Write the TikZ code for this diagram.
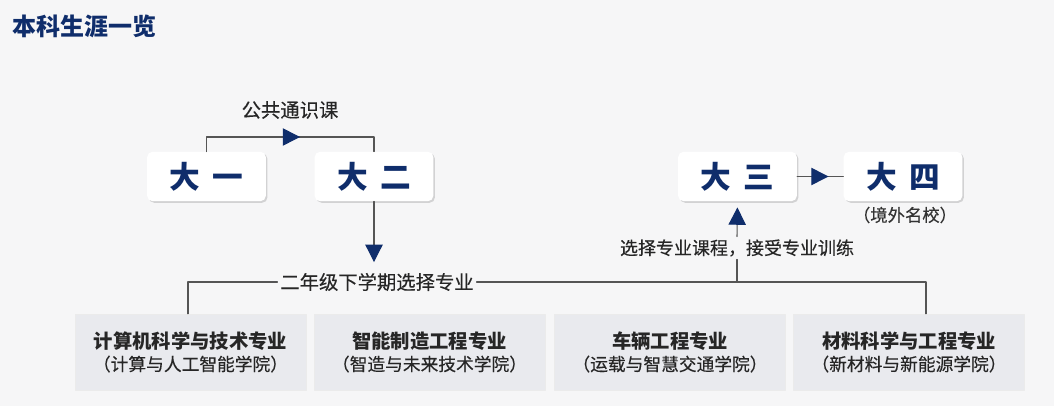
\documentclass[tikz,border=0pt]{standalone}
\usepackage{fontspec}
\setmainfont{Noto Sans CJK SC}
\newfontfamily\medfont{Noto Sans CJK SC}[FakeBold=0.35]
\usetikzlibrary{arrows.meta,shadows,decorations.markings}
\definecolor{navy}{HTML}{0F2D6B}
\definecolor{linegray}{HTML}{555555}
\definecolor{boxgray}{HTML}{E9EAEE}
\definecolor{bgcol}{HTML}{F6F6F7}
\tikzset{
  yearbox/.style={fill=white,rounded corners=4pt,minimum width=89pt,minimum height=37pt,
    drop shadow={shadow xshift=1.2pt,shadow yshift=-1.2pt,opacity=.3},
    font=\fontsize{23}{23}\selectfont\bfseries,text=navy},
  majorbox/.style={fill=boxgray,draw=black!8,minimum width=173pt,minimum height=57pt,
    align=center,text=black!85},
  lbl/.style={font=\medfont\fontsize{14.5}{14.5}\selectfont,text=black!85,fill=bgcol,inner sep=2pt},
  conn/.style={draw=linegray,line width=.8pt},
  tip/.style={-{Triangle[length=13pt,width=13pt,color=navy]}},
  midtip/.style={postaction={decorate},decoration={markings,
    mark=at position #1 with {\arrow{Triangle[length=13pt,width=13pt,color=navy]}}}}
}
\newcommand{\majortext}[2]{{\fontsize{14.5}{20}\selectfont\bfseries #1}\\[3pt]{\medfont\fontsize{13.3}{16}\selectfont #2}}
\begin{document}
\begin{tikzpicture}[x=0.75pt,y=-0.75pt,line cap=round,line join=round]
\fill[bgcol] (0,0) rectangle (1054,406);
\useasboundingbox (0,0) rectangle (1054,406);
% title
\node[anchor=west,inner sep=0,text=navy,font=\fontsize{18}{18}\selectfont\bfseries] (title) at (12,26) {本科生涯一览};
% years
\node[yearbox] (y1) at (206.5,176.5) {大\hspace{.4em}一};
\node[yearbox] (y2) at (374,176.5) {大\hspace{.4em}二};
\node[yearbox] (y3) at (737.5,176.5) {大\hspace{.4em}三};
\node[yearbox] (y4) at (903,176.5) {大\hspace{.4em}四};
\node[font=\medfont\fontsize{13}{13}\selectfont,text=black!80] (abroad) at (905,215) {（境外名校）};
% labels
\node[lbl] (gen) at (290,110) {公共通识课};
\node[lbl] (sem) at (377,282) {二年级下学期选择专业};
\node[lbl,font=\medfont\fontsize{13.5}{13.5}\selectfont] (train) at (737,248) {选择专业课程，接受专业训练};
% majors
\node[majorbox] (m1) at (190.5,352) {\majortext{计算机科学与技术专业}{（计算与人工智能学院）}};
\node[majorbox] (m2) at (429.5,352) {\majortext{智能制造工程专业}{（智造与未来技术学院）}};
\node[majorbox] (m3) at (670,352) {\majortext{车辆工程专业}{（运载与智慧交通学院）}};
\node[majorbox] (m4) at (909,352) {\majortext{材料科学与工程专业}{（新材料与新能源学院）}};
% connectors
\coordinate (ctop) at (290,137);
\coordinate (busL) at (188,282);
\coordinate (busR) at (926,282);
\draw[conn,midtip=.55] (y1.north) |- (ctop) -| (y2.north);
\draw[conn,midtip=.68] (y3.east) -- (y4.west);
\draw[conn,tip,shorten >=6pt] (y2.south) -- (y2.south |- sem.north);
\draw[conn,tip,shorten >=4.5pt] (train.north) -- (y3.south);
\draw[conn] (m1.north -| busL) -- (busL) -- (sem.west);
\draw[conn] (sem.east) -- (busR) -- (m4.north -| busR);
\draw[conn] (train.south) -- (train.south |- busR);
\end{tikzpicture}
\end{document}
